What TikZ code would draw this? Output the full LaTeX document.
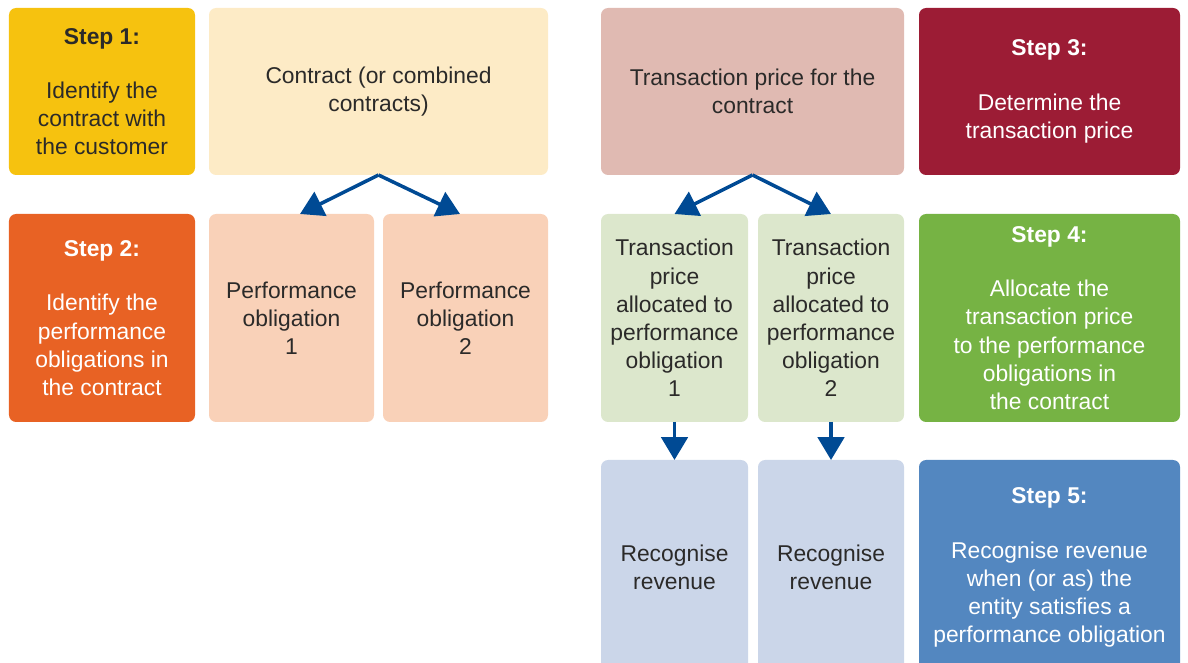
\documentclass[tikz,border=0pt]{standalone}
\usepackage{fontspec}
\setmainfont{Liberation Sans}
\usepackage{tikz}
\usetikzlibrary{positioning}
\usetikzlibrary{arrows.meta}
\definecolor{stepOneColor}{HTML}{F6C20F}
\definecolor{stepTwoColor}{HTML}{E86224}
\definecolor{stepThreeColor}{HTML}{9C1C35}
\definecolor{stepFourColor}{HTML}{76B344}
\definecolor{stepFiveColor}{HTML}{5387C0}
\definecolor{contractColor}{HTML}{FDEBC6}
\definecolor{obligationColor}{HTML}{F9D1B8}
\definecolor{priceColor}{HTML}{E0BAB2}
\definecolor{allocColor}{HTML}{DCE7CC}
\definecolor{revenueColor}{HTML}{CBD6E9}
\definecolor{textColor}{HTML}{2B2A29}
\definecolor{arrowColor}{HTML}{004A94}
\tikzstyle{roundrect}=[rectangle, rounded corners=4pt, inner sep=0pt, outer sep=0pt, text centered, align=center, text=textColor, font=\fontsize{13}{16}\selectfont]
\tikzstyle{stepbox}=[roundrect, minimum width=5.22cm, text=white]
\tikzstyle{arrow}=[draw=arrowColor, line width=2pt, -{Triangle[length=13pt,width=15pt]}]
\tikzset{
	rowOne/.style={minimum height=3.34cm},
	rowTwo/.style={minimum height=4.16cm},
	rowThree/.style={minimum height=4.3cm}
}

\begin{document}
\begin{tikzpicture}
	\useasboundingbox (0,0) rectangle (23.76,-13.26);
	\clip (0,0) rectangle (23.76,-13.26);
	
	\node(StepOne)[roundrect, rowOne, minimum width=3.72cm, fill=stepOneColor, anchor=north west] at (0.18,-0.16) {\textbf{Step 1:}\\[15pt]Identify the\\contract with\\the customer};
	
	\node(Contract)[roundrect, rowOne, minimum width=6.78cm, fill=contractColor, right=0.28cm of StepOne]{Contract (or combined\\contracts)};
	
	\node(Price)[roundrect, rowOne, minimum width=6.06cm, fill=priceColor, right=1.06cm of Contract]{Transaction price for the\\contract};
	
	\node(StepThree)[stepbox, rowOne, fill=stepThreeColor, right=0.3cm of Price]{\textbf{Step 3:}\\[15pt]Determine the\\transaction price};
	
	
	\node(StepTwo)[roundrect, rowTwo, minimum width=3.72cm, fill=stepTwoColor, text=white, below=0.78cm of StepOne]{\textbf{Step 2:}\\[15pt]Identify the\\performance\\obligations in\\the contract};
	
	\node(ObligationOne)[roundrect, rowTwo, minimum width=3.3cm, fill=obligationColor, right=0.28cm of StepTwo]{Performance\\obligation\\1};
	
	\node(ObligationTwo)[roundrect, rowTwo, minimum width=3.3cm, fill=obligationColor, right=0.18cm of ObligationOne]{Performance\\obligation\\2};
	
	\node(AllocOne)[roundrect, rowTwo, minimum width=2.94cm, fill=allocColor, below=0.78cm of Price.south west, anchor=north west]{Transaction\\price\\allocated to\\performance\\obligation\\1};
	
	\node(AllocTwo)[roundrect, rowTwo, minimum width=2.92cm, fill=allocColor, right=0.2cm of AllocOne]{Transaction\\price\\allocated to\\performance\\obligation\\2};
	
	\node(StepFour)[stepbox, rowTwo, fill=stepFourColor, right=0.3cm of AllocTwo]{\textbf{Step 4:}\\[15pt]Allocate the\\transaction price\\to the performance\\obligations in\\the contract};
	
	
	\node(RevenueOne)[roundrect, rowThree, minimum width=2.94cm, fill=revenueColor, below=0.76cm of AllocOne]{Recognise\\revenue};
	
	\node(RevenueTwo)[roundrect, rowThree, minimum width=2.92cm, fill=revenueColor, below=0.76cm of AllocTwo]{Recognise\\revenue};
	
	\node(StepFive)[stepbox, rowThree, fill=stepFiveColor, below=0.76cm of StepFour]{\textbf{Step 5:}\\[15pt]Recognise revenue\\when (or as) the\\entity satisfies a\\performance obligation};
	
	
	\draw [arrow] (Contract.south) -- ([xshift=0.17cm]ObligationOne.north);
	\draw [arrow] (Contract.south) -- ([xshift=-0.11cm]ObligationTwo.north);
	\draw [arrow] (Price.south) -- (AllocOne.north);
	\draw [arrow] (Price.south) -- (AllocTwo.north);
	\draw [arrow] (AllocOne) -- (RevenueOne);
	\draw [arrow] (AllocTwo) -- (RevenueTwo);
\end{tikzpicture}
\end{document}
